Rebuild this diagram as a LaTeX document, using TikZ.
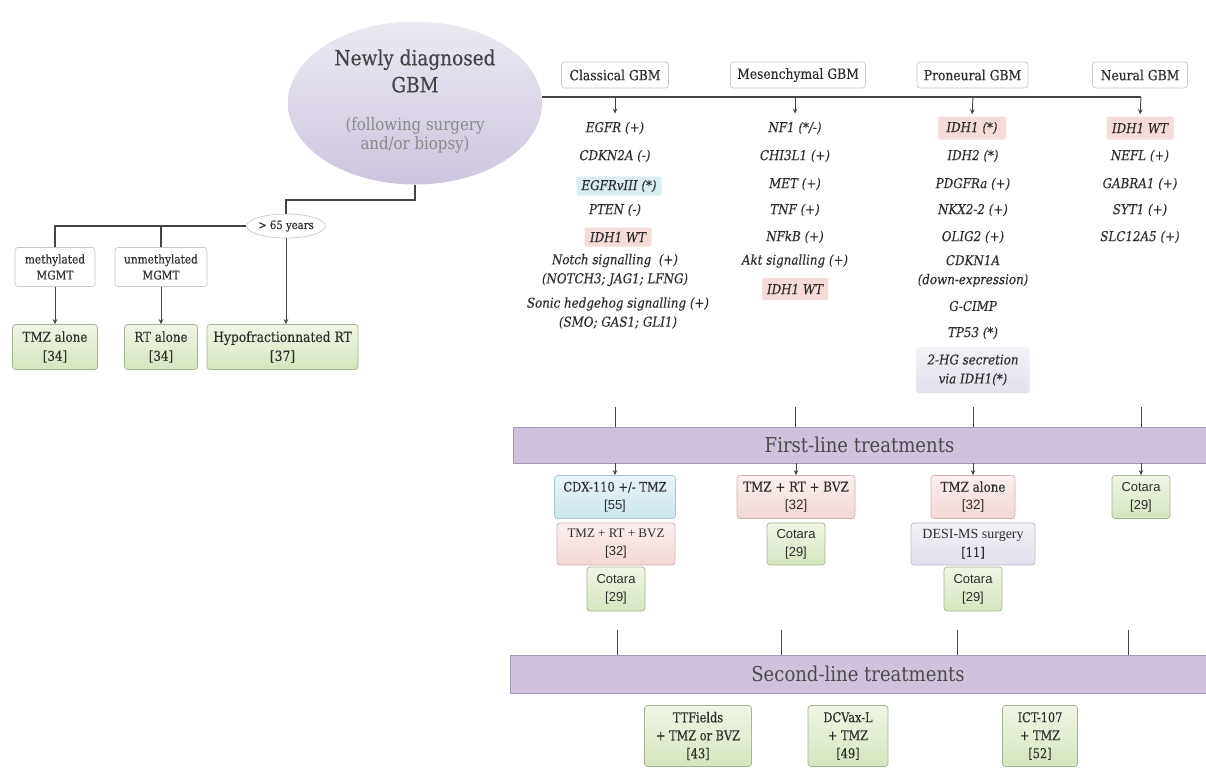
\documentclass[tikz,border=0pt]{standalone}
\usepackage{fontspec}
\setmainfont{DejaVu Serif}[FakeStretch=0.88,FakeBold=0.25]
\newfontfamily\sansf{Liberation Sans}
\newfontfamily\tnr{Liberation Serif}
\newfontfamily\slabc{DejaVu Serif}[FakeStretch=0.84,FakeBold=0.25]
\newfontfamily\lightslab{DejaVu Serif}[FakeStretch=0.88]
\usetikzlibrary{arrows.meta,shapes.geometric,calc}
\definecolor{txt}{HTML}{2E2E2E}
\definecolor{lnc}{HTML}{444444}
\definecolor{hdrline}{HTML}{C9C9C9}
\definecolor{gbmA}{HTML}{ECE9F2}
\definecolor{gbmB}{HTML}{CDC5DE}
\definecolor{titc}{HTML}{444444}
\definecolor{subc}{HTML}{8A8A8A}
\definecolor{hlpink}{HTML}{F5DCD8}
\definecolor{hlblue}{HTML}{D9EDF3}
\definecolor{gA}{HTML}{F0F6E6}
\definecolor{gB}{HTML}{D5E5BF}
\definecolor{gline}{HTML}{A6B593}
\definecolor{pA}{HTML}{FBF0EF}
\definecolor{pB}{HTML}{F2D8D5}
\definecolor{pline}{HTML}{D0B3B0}
\definecolor{bA}{HTML}{E8F4F8}
\definecolor{bB}{HTML}{CDE5EE}
\definecolor{bline}{HTML}{A9C6D3}
\definecolor{lA}{HTML}{F3F2F7}
\definecolor{lB}{HTML}{E2E0EC}
\definecolor{lline}{HTML}{BDBACB}
\definecolor{bandc}{HTML}{D0C2DD}
\definecolor{bandl}{HTML}{A598B4}
\definecolor{bandt}{HTML}{4A4A4A}
\begin{document}
\begin{tikzpicture}[x=1pt,y=-1pt,
  ln/.style={draw=lnc, line width=1.2pt},
  arr/.style={draw=lnc, line width=0.9pt, -{Stealth[length=5pt,width=4.5pt]}},
  hdr/.style={draw=hdrline, fill=white, rounded corners=3pt, line width=0.7pt, minimum height=26, inner sep=0, font=\fontsize{14}{16}\selectfont, text=txt},
  item/.style={font=\fontsize{13.5}{19}\selectfont\itshape, text=txt, inner sep=0, align=center},
  hlp/.style={item, fill=hlpink, rounded corners=2pt, minimum height=22},
  hlb/.style={item, fill=hlblue, rounded corners=2pt, minimum height=19},
  boxbase/.style={rounded corners=3pt, line width=0.7pt, align=center, inner sep=0, text=txt, font=\fontsize{13}{18}\selectfont},
  gbox/.style={boxbase, draw=gline, top color=gA, bottom color=gB},
  pbox/.style={boxbase, draw=pline, top color=pA, bottom color=pB},
  bbox/.style={boxbase, draw=bline, top color=bA, bottom color=bB},
  lbox/.style={boxbase, draw=lline, top color=lA, bottom color=lB},
  band/.style={fill=bandc, draw=bandl, line width=0.8pt, inner sep=0, text=bandt, font=\lightslab\fontsize{20.5}{22}\selectfont}
]
\useasboundingbox (0,0) rectangle (1206,772);
\fill[white] (0,0) rectangle (1206,772);

% main ellipse
\node[ellipse, top color=gbmA, bottom color=gbmB, minimum width=254, minimum height=163, inner sep=0] (gbm) at (415,103) {};
\node[font=\fontsize{21}{27}\selectfont, text=titc, align=center, inner sep=0] (gbmT) at (415,71) {Newly diagnosed\\GBM};
\node[font=\lightslab\fontsize{17}{19}\selectfont, text=subc, align=center, inner sep=0] (gbmS) at (415,135) {(following surgery\\and/or biopsy)};

% subtype headers
\node[hdr, minimum width=107] (hC) at (615,75) {Classical GBM};
\node[hdr, minimum width=135] (hM) at (798,75) {Mesenchymal GBM};
\node[hdr, minimum width=111] (hP) at (972.5,75) {Proneural GBM};
\node[hdr, minimum width=95] (hN) at (1140,75) {Neural GBM};

% junctions on main line
\coordinate (jC) at (615,97);
\coordinate (jM) at (795,97);
\coordinate (jP) at (973,97);
\coordinate (jN) at (1141,97);

% classical
\node[item] (c1) at (615,128) {EGFR (+)};
\node[item] (c2) at (615,156) {CDKN2A (-)};
\node[hlb, minimum width=85] (c3) at (619,186) {EGFRvIII (*)};
\node[item] (c4) at (615,210) {PTEN (-)};
\node[hlp, minimum width=67, minimum height=19] (c5) at (618,237) {IDH1 WT};
\node[item] (c6) at (615,270) {Notch signalling~~(+)\\(NOTCH3; JAG1; LFNG)};
\node[item] (c7) at (618,313) {Sonic hedgehog signalling (+)\\(SMO; GAS1; GLI1)};

% mesenchymal
\node[item] (m1) at (795,128) {NF1 (*/-)};
\node[item] (m2) at (795,156) {CHI3L1 (+)};
\node[item] (m3) at (795,184) {MET (+)};
\node[item] (m4) at (795,210) {TNF (+)};
\node[item] (m5) at (795,237) {NFkB (+)};
\node[item] (m6) at (795,261) {Akt signalling (+)};
\node[hlp, minimum width=66] (m7) at (795,289) {IDH1 WT};

% proneural
\node[hlp, minimum width=68, minimum height=23] (p1) at (972,128) {IDH1 (*)};
\node[item] (p2) at (973,156) {IDH2 (*)};
\node[item] (p3) at (973,184) {PDGFRa (+)};
\node[item] (p4) at (973,210) {NKX2-2 (+)};
\node[item] (p5) at (973,237) {OLIG2 (+)};
\node[item] (p6) at (973,271) {CDKN1A\\(down-expression)};
\node[item] (p7) at (973,306) {G-CIMP};
\node[item] (p8) at (973,333) {TP53 (*)};
\node[item, top color=lA, bottom color=lB, rounded corners=2pt, minimum width=113, minimum height=46] (p9) at (973,370) {2-HG secretion\\via IDH1(*)};

% neural
\node[hlp, minimum width=67, minimum height=23] (n1) at (1140,128) {IDH1 WT};
\node[item] (n2) at (1140,156) {NEFL (+)};
\node[item] (n3) at (1140,184) {GABRA1 (+)};
\node[item] (n4) at (1140,210) {SYT1 (+)};
\node[item] (n5) at (1140,237) {SLC12A5 (+)};

% main connectors
\draw[ln] (gbm.east |- jC) -- (jN);
\draw[arr, shorten >=2pt] (jN) -- (n1.north);
\draw[arr, shorten >=8pt] (jC) -- (c1.north);
\draw[arr, shorten >=8pt] (jM) -- (m1.north);
\draw[arr, shorten >=2pt] (jP) -- (p1.north);

% first-line band
\node[band, minimum width=693, minimum height=36] (b1) at (859.5,445) {First-line treatments};
\coordinate (sC) at (615,407);
\coordinate (sM) at (795,407);
\coordinate (sP) at (973,407);
\coordinate (sN) at (1141,407);
\foreach \s in {sC,sM,sP,sN} \draw[ln, line width=0.9pt] (\s) -- (\s |- b1.north);

% first-line boxes
\node[bbox, minimum width=121, minimum height=43] (f1) at (615,497) {CDX-110 +/- TMZ\\{\sansf [55]}};
\node[pbox, minimum width=118, minimum height=42, font=\fontsize{13}{18}\selectfont] (f2) at (616,544) {{\tnr\bfseries\mdseries TMZ + RT + BVZ}\\{\sansf [32]}};
\node[gbox, minimum width=58, minimum height=44, font=\sansf\fontsize{13}{18}\selectfont] (f3) at (616,589) {Cotara\\{}[29]};
\node[pbox, minimum width=118, minimum height=43, font=\fontsize{13.5}{18}\selectfont] (f4) at (796,497) {TMZ + RT + BVZ\\{\sansf [32]}};
\node[gbox, minimum width=58, minimum height=42, font=\sansf\fontsize{13}{18}\selectfont] (f5) at (796,544) {Cotara\\{}[29]};
\node[pbox, minimum width=84, minimum height=43, font=\fontsize{13.5}{18}\selectfont] (f6) at (973,497) {TMZ alone\\{\sansf [32]}};
\node[lbox, minimum width=124, minimum height=42] (f7) at (973,544) {{\tnr\fontsize{14}{18}\selectfont DESI-MS surgery}\\{}[11]};
\node[gbox, minimum width=58, minimum height=44, font=\sansf\fontsize{13}{18}\selectfont] (f8) at (973,589) {Cotara\\{}[29]};
\node[gbox, minimum width=58, minimum height=43, font=\sansf\fontsize{13}{18}\selectfont] (f9) at (1141,497) {Cotara\\{}[29]};
\foreach \f in {f1,f4,f6,f9} \draw[arr] (\f.north |- b1.south) -- (\f.north);

% second-line band
\node[band, minimum width=696, minimum height=38] (b2) at (858,674) {Second-line treatments};
\coordinate (tA) at (617,630);
\coordinate (tB) at (781,630);
\coordinate (tC) at (957,630);
\coordinate (tD) at (1128,630);
\foreach \s in {tA,tB,tC,tD} \draw[ln, line width=0.9pt] (\s) -- (\s |- b2.north);

% second-line boxes
\node[gbox, minimum width=107, minimum height=61, font=\slabc\fontsize{13.5}{18}\selectfont] (s1) at (698,736) {TTFields\\+ TMZ or BVZ\\{}[43]};
\node[gbox, minimum width=80, minimum height=61, font=\slabc\fontsize{13.5}{18}\selectfont] (s2) at (848,736) {DCVax-L\\+ TMZ\\{}[49]};
\node[gbox, minimum width=75, minimum height=61, font=\slabc\fontsize{13.5}{18}\selectfont] (s3) at (1040,736) {ICT-107\\+ TMZ\\{}[52]};

% left branch (> 65 years)
\node[ellipse, draw=hdrline, fill=white, line width=0.7pt, minimum width=74, minimum height=24, inner sep=0, font=\fontsize{11.5}{13}\selectfont, text=txt] (age) at (286,226) {> 65 years};
\node[hdr, minimum width=80, minimum height=39, align=center, font=\fontsize{12}{16}\selectfont] (mm) at (55,267) {methylated\\MGMT};
\node[hdr, minimum width=92, minimum height=39, align=center, font=\fontsize{12}{16}\selectfont] (um) at (161,267) {unmethylated\\MGMT};
\node[gbox, minimum width=85, minimum height=45, font=\fontsize{13.5}{19}\selectfont] (tmz) at (55,347) {TMZ alone\\{}[34]};
\node[gbox, minimum width=73, minimum height=45, font=\fontsize{13.5}{19}\selectfont] (rt) at (161,347) {RT alone\\{}[34]};
\node[gbox, minimum width=151, minimum height=45, font=\fontsize{14}{19}\selectfont] (hypo) at (282.5,347) {Hypofractionnated RT\\{}[37]};

\coordinate (k) at (286,200);
\draw[ln] (gbm.south) |- (k) -- (age.north);
\draw[ln] (age.west) -| (mm.north);
\draw[ln] (age.west) -| (um.north);
\draw[arr] (mm.south) -- (tmz.north);
\draw[arr] (um.south) -- (rt.north);
\draw[arr] (age.south) -- (age.south |- hypo.north);
\end{tikzpicture}
\end{document}
